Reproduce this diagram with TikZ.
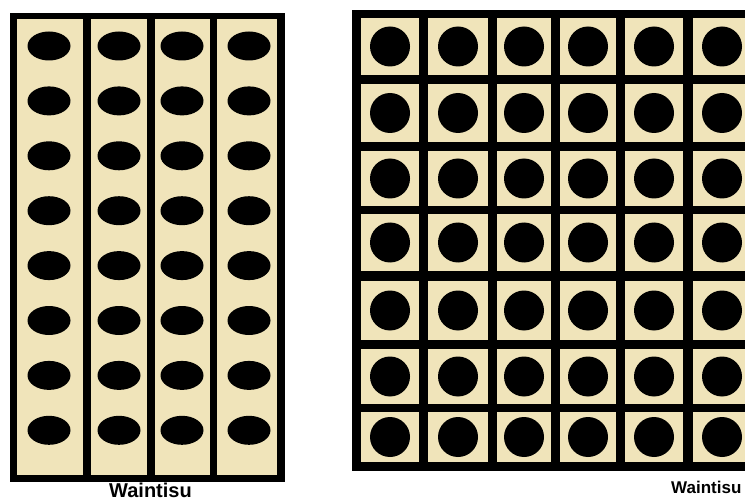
\documentclass[tikz,border=0pt]{standalone}
\usepackage{fontspec}
\setmainfont{Liberation Sans}
\usepackage{tikz}
\usetikzlibrary{positioning}

\definecolor{boardcream}{RGB}{240,228,186}

\begin{document}
\begin{tikzpicture}[
    x=1pt, y=-1pt,
    board/.style={fill=black},
    strip/.style={fill=boardcream},
    pad/.style={fill=boardcream},
    hole/.style={fill=black},
    brand/.style={inner sep=0pt, anchor=base west}
  ]
  \useasboundingbox (0,0) rectangle (745,500);
  \clip (0,0) rectangle (745,500);
  \fill[white] (0,0) rectangle (745,500);

  % Stripboard
  \fill[board] (10,13) rectangle (285,482);
  \foreach \l/\r in {17/83, 91/147, 155/210, 217/277}
    \fill[strip] (\l,19) rectangle (\r,475);

  % Holes along the strips
  \foreach \x in {49, 119, 182, 249}
    \foreach \i in {0,...,7}
      \fill[hole] (\x,{46+54.9*\i}) ellipse (21.5pt and 14.5pt);

  % Perfboard
  \fill[board] (352,10) rectangle (760,471);
  \foreach \t/\b in {18/75, 84/142, 151/206, 214/271, 281/340, 349/404, 412/462}
    \foreach \l/\r in {361/419, 428/488, 497/551, 560/616, 625/683, 693/751} {
      \fill[pad] (\l,\t) rectangle (\r,\b);
      \fill[hole] ({(\l+\r)/2},{(\t+\b)/2}) circle (20pt);
    }

  % Labels
  \node[brand, font=\bfseries\fontsize{20}{20}\selectfont] (stripname) at (109,497) {Waintisu};
  \node[brand, font=\bfseries\fontsize{17}{17}\selectfont] (perfname) at (671,493) {Waintisu};
\end{tikzpicture}
\end{document}
